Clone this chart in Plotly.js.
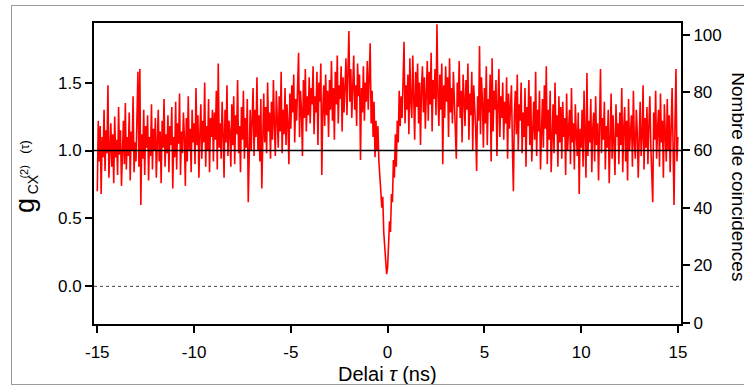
<!DOCTYPE html>
<html>
<head>
<meta charset="utf-8">
<script src="https://cdn.plot.ly/plotly-3.0.1.min.js"></script>
<style>
  html, body { margin: 0; padding: 0; background: #ffffff; }
  #wrap { position: relative; width: 744px; height: 387px; overflow: hidden; }
  #chart { position: absolute; left: 0; top: 0; width: 744px; height: 387px; }
  #frame { position: absolute; left: 11px; top: 5px; width: 740px; height: 378px;
           border: 1px solid #9a9a9a; pointer-events: none; }
</style>
</head>
<body>
<div id="wrap">
  <div id="chart"></div>
  <div id="frame"></div>
</div>
<script>
// ---- data ----
const tauStart = -15;      // ns, first bin
const tauStep = 0.05;      // ns, bin width
const g2 = [
  // -15 .. -14.05
  0.70, 1.22, 0.92, 1.18, 0.68, 1.10, 0.95, 1.30, 0.85, 1.15, 0.98, 1.48, 0.80, 1.05, 1.20, 0.88, 1.12, 0.76, 1.25, 0.95,
  // -14
  1.08, 0.82, 1.32, 0.97, 1.15, 0.74, 1.05, 1.22, 0.90, 1.35, 0.86, 1.10, 0.96, 1.28, 0.78, 1.14, 1.00, 1.40, 0.84, 1.06,
  // -13
  0.92, 1.20, 1.58, 0.88, 1.60, 0.60, 1.12, 0.94, 1.30, 0.82, 1.18, 1.02, 1.26, 0.78, 1.10, 0.96, 1.34, 0.86, 1.16, 1.00,
  // -12
  1.24, 0.80, 1.08, 1.30, 0.92, 1.14, 0.76, 1.22, 1.02, 1.38, 0.88, 1.12, 0.98, 1.26, 0.84, 1.18, 1.04, 1.32, 0.72, 1.10,
  // -11
  0.95, 1.36, 0.86, 1.20, 1.05, 1.42, 0.82, 1.14, 0.98, 1.28, 1.10, 0.74, 1.24, 0.92, 1.40, 1.00, 1.16, 0.84, 1.30, 1.06,
  // -10
  1.20, 0.90, 1.46, 1.04, 1.26, 0.80, 1.12, 1.34, 0.94, 1.22, 1.06, 1.50, 0.88, 1.18, 1.00, 1.38, 0.84, 1.24, 1.10, 1.30,
  // -9
  0.92, 1.28, 1.08, 1.44, 0.86, 1.64, 1.02, 1.20, 0.94, 1.36, 1.12, 0.80, 1.30, 1.06, 1.48, 0.96, 1.22, 1.14, 0.88, 1.34,
  // -8
  1.04, 1.40, 0.90, 1.26, 1.12, 1.52, 0.98, 1.18, 0.84, 1.32, 1.08, 1.44, 0.94, 1.24, 1.02, 1.38, 0.62, 1.16, 1.30, 1.00,
  // -7
  1.22, 1.46, 0.96, 1.30, 1.10, 1.54, 1.00, 1.26, 0.92, 1.38, 0.72, 1.20, 1.42, 1.06, 1.32, 0.98, 1.50, 1.14, 1.28, 0.94,
  // -6
  1.36, 1.08, 1.52, 1.18, 0.96, 1.44, 1.24, 1.02, 1.40, 1.14, 1.58, 0.98, 1.30, 1.12, 1.46, 1.04, 1.34, 1.20, 0.90, 1.42,
  // -5
  1.16, 1.48, 1.28, 1.56, 1.06, 1.38, 1.22, 1.50, 1.72, 1.10, 1.44, 1.30, 0.96, 1.52, 1.24, 1.60, 1.14, 1.40, 1.26, 1.54,
  // -4
  1.20, 1.46, 1.34, 1.62, 1.12, 1.40, 1.28, 1.58, 1.04, 1.50, 1.36, 1.64, 0.82, 1.30, 1.48, 1.18, 1.56, 1.26, 1.44, 1.10,
  // -3
  1.52, 1.30, 1.66, 1.22, 1.46, 1.08, 1.58, 1.34, 1.70, 1.20, 1.48, 1.38, 1.62, 1.14, 1.54, 1.28, 1.44, 1.68, 1.26, 1.50,
  // -2
  1.88, 1.36, 1.60, 1.24, 1.54, 1.70, 1.30, 1.48, 1.18, 1.64, 1.40, 1.56, 0.93, 1.46, 1.28, 1.62, 1.22, 1.50, 1.36, 1.66,
  // -1
  1.30, 1.52, 1.79, 1.20, 1.44, 1.10, 1.36, 0.95, 1.22, 1.00, 1.18, 0.92, 0.83, 0.70, 0.58, 0.66, 0.40, 0.30, 0.22, 0.09,
  // 0
  0.14, 0.30, 0.48, 0.40, 0.68, 0.62, 0.93, 0.80, 1.12, 0.88, 1.22, 1.06, 1.44, 1.18, 1.40, 1.24, 1.52, 1.80, 1.20, 1.48,
  // 1
  1.30, 1.56, 1.12, 1.68, 1.36, 1.24, 1.70, 1.40, 1.08, 1.58, 1.32, 1.64, 1.20, 1.50, 1.04, 1.46, 1.62, 1.28, 1.54, 1.16,
  // 2
  1.44, 1.66, 1.22, 1.58, 1.34, 1.72, 1.14, 1.52, 1.38, 1.60, 1.26, 1.93, 1.42, 1.18, 1.56, 1.30, 1.64, 0.90, 1.48, 1.24,
  // 3
  1.62, 1.36, 1.54, 1.10, 1.68, 1.28, 1.46, 1.20, 1.58, 1.40, 1.12, 0.94, 1.50, 1.32, 1.66, 1.24, 1.44, 1.06, 1.56, 1.34,
  // 4
  1.18, 1.52, 1.30, 1.64, 1.08, 1.42, 1.26, 1.58, 1.00, 1.48, 1.34, 1.16, 0.85, 1.40, 1.22, 1.77, 1.12, 1.54, 1.36, 1.02,
  // 5
  1.46, 1.20, 1.62, 1.04, 1.38, 1.28, 1.56, 0.92, 1.68, 1.14, 1.44, 1.30, 1.52, 0.96, 1.34, 1.60, 1.10, 1.40, 1.24, 1.50,
  // 6
  1.08, 1.36, 1.20, 1.54, 0.94, 1.42, 1.16, 1.30, 1.48, 1.02, 0.70, 1.26, 1.44, 1.12, 1.56, 1.00, 1.34, 1.22, 1.50, 0.98,
  // 7
  1.28, 1.10, 1.46, 0.88, 1.32, 1.18, 1.52, 1.04, 1.40, 0.92, 1.24, 1.36, 1.08, 1.58, 0.96, 1.30, 1.14, 1.44, 0.86, 1.26,
  // 8
  1.38, 1.02, 1.48, 1.16, 1.62, 0.90, 1.30, 1.08, 1.44, 0.84, 1.22, 1.34, 0.98, 1.50, 1.12, 1.26, 0.88, 1.40, 1.06, 1.32,
  // 9
  0.94, 1.36, 1.10, 1.24, 0.82, 1.42, 1.00, 1.18, 1.30, 0.90, 1.46, 1.06, 1.20, 0.86, 1.34, 1.12, 0.96, 1.28, 0.68, 1.16,
  // 10
  1.02, 1.30, 0.88, 1.44, 1.10, 0.80, 1.57, 0.96, 1.22, 1.06, 1.38, 0.84, 1.16, 1.28, 0.92, 1.40, 1.04, 1.20, 0.78, 1.32,
  // 11
  1.60, 0.98, 1.24, 1.08, 1.36, 0.86, 1.18, 1.02, 1.30, 0.76, 1.14, 1.42, 0.94, 1.26, 1.06, 0.82, 1.34, 1.10, 1.20, 0.90,
  // 12
  1.28, 1.04, 1.46, 0.84, 1.16, 1.32, 0.92, 1.22, 0.78, 1.38, 1.00, 1.12, 1.26, 0.88, 1.44, 1.06, 0.94, 1.30, 1.14, 0.80,
  // 13
  1.20, 1.36, 0.96, 1.10, 1.48, 0.86, 1.24, 1.02, 1.32, 0.90, 1.18, 1.40, 1.04, 0.82, 0.62, 1.28, 1.08, 1.44, 0.94, 1.16,
  // 14
  1.30, 0.88, 1.42, 1.06, 1.22, 0.80, 1.34, 1.12, 0.92, 1.38, 1.00, 1.26, 0.84, 1.16, 1.46, 1.04, 0.60, 1.20, 1.60, 0.92,
  // 15
  1.10
];
const xTickVals = [-15, -10, -5, 0, 5, 10, 15];
const xTickText = ['-15', '-10', '-5', '0', '5', '10', '15'];
const yTickVals = [0, 0.5, 1.0, 1.5];
const yTickText = ['0.0', '0.5', '1.0', '1.5'];
const y2TickVals = [0, 20, 40, 60, 80, 100];
const xTitle = 'Delai <i>τ</i> (ns)';
const y2Title = 'Nombre de coincidences';
// left title pieces: g, subscript CX, superscripts (2) and (τ)
const yTitleParts = ['g', 'CX', '(2)', '(τ)'];

// bin centres of the histogram
const tau = g2.map((_, i) => +(tauStart + i * tauStep).toFixed(3));

const FONT = 'Liberation Sans, Arial, Helvetica, sans-serif';

const traces = [
  {
    x: tau, y: g2, type: 'scatter', mode: 'lines',
    line: { color: '#ff0000', width: 1.6 },
    hoverinfo: 'skip', showlegend: false
  },
  {
    x: [null], y: [null], type: 'scatter', mode: 'lines', yaxis: 'y2',
    hoverinfo: 'skip', showlegend: false
  }
];

const axisCommon = {
  showline: true, linecolor: '#000', linewidth: 2,
  ticks: 'outside', ticklen: 7, tickwidth: 2, tickcolor: '#000',
  showgrid: false, zeroline: false,
  tickfont: { family: FONT, size: 17, color: '#000' }
};

function titlePiece(text, x, y, size) {
  return { text: text, xref: 'paper', yref: 'paper', x: x, y: y,
           xanchor: 'center', yanchor: 'middle', textangle: -90, showarrow: false,
           font: { family: FONT, size: size, color: '#000' } };
}

const layout = {
  width: 744, height: 387,
  margin: { l: 94, r: 63, t: 23, b: 63, pad: 0 },
  paper_bgcolor: '#ffffff', plot_bgcolor: '#ffffff',
  showlegend: false,
  xaxis: Object.assign({}, axisCommon, {
    range: [-15.17, 15.16], tickmode: 'array', tickvals: xTickVals, ticktext: xTickText,
    mirror: true, ticklabelstandoff: 5
  }),
  yaxis: Object.assign({}, axisCommon, {
    range: [-0.277, 1.939], tickmode: 'array', tickvals: yTickVals, ticktext: yTickText,
    mirror: false
  }),
  yaxis2: Object.assign({}, axisCommon, {
    range: [-0.31, 104.05], tickmode: 'array', tickvals: y2TickVals,
    overlaying: 'y', side: 'right', anchor: 'x'
  }),
  shapes: [
    { type: 'line', xref: 'paper', x0: 0, x1: 1, yref: 'y', y0: 0, y1: 0,
      line: { color: '#444', width: 1, dash: 'dot' }, layer: 'above' },
    { type: 'line', xref: 'paper', x0: 0, x1: 1, yref: 'y', y0: 1, y1: 1,
      line: { color: '#000', width: 1.6 }, layer: 'above' }
  ],
  annotations: [
    { text: xTitle, xref: 'paper', yref: 'paper', x: 0.5, y: -0.165,
      xanchor: 'center', yanchor: 'middle', showarrow: false,
      font: { family: FONT, size: 20, color: '#000' } },
    titlePiece(yTitleParts[0], -0.1175, 0.392, 27),
    titlePiece(yTitleParts[1], -0.1035, 0.4650, 14),
    titlePiece(yTitleParts[2], -0.1195, 0.5060, 11),
    titlePiece(yTitleParts[3], -0.1195, 0.5880, 13),
    { text: y2Title, xref: 'paper', yref: 'paper', x: 1.098, y: 0.489,
      xanchor: 'center', yanchor: 'middle', textangle: 90, showarrow: false,
      font: { family: FONT, size: 19, color: '#000' } }
  ]
};

Plotly.newPlot('chart', traces, layout, { staticPlot: true, displayModeBar: false });
</script>
</body>
</html>
